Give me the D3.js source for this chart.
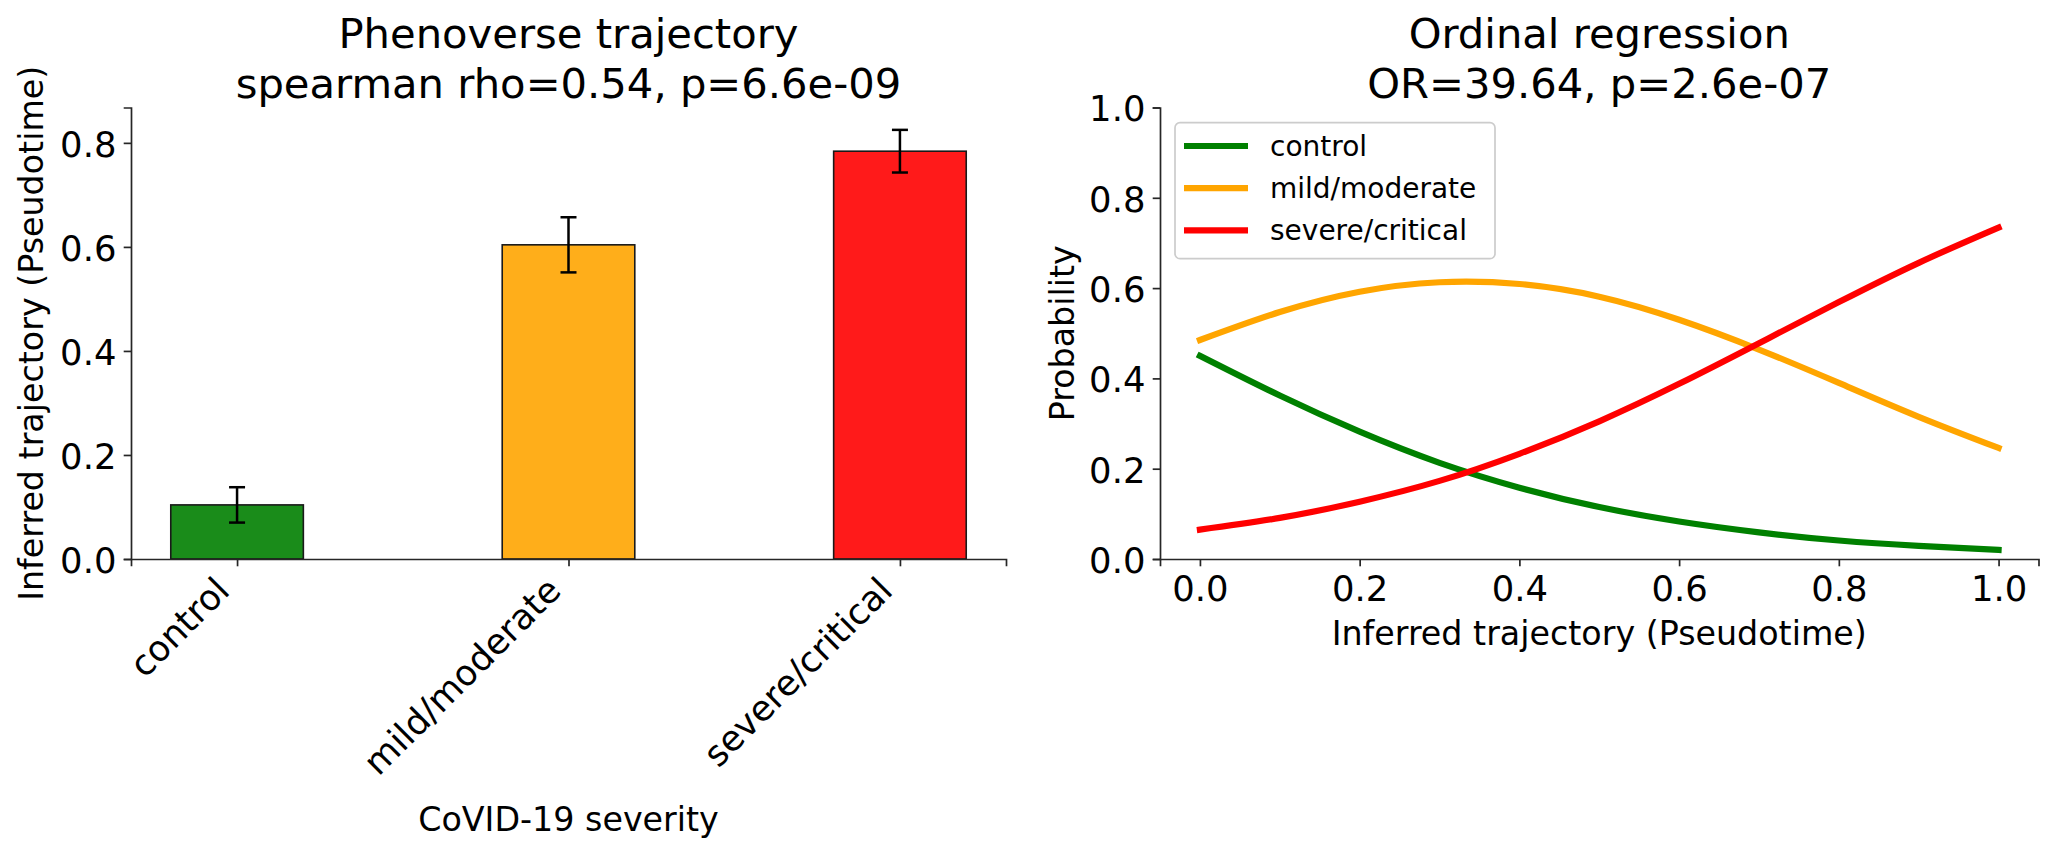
<!DOCTYPE html>
<html>
<head>
<meta charset="utf-8">
<script src="https://cdn.jsdelivr.net/npm/d3@7"></script>
<style>
  html, body { margin: 0; padding: 0; background: #fff; }
  svg { display: block; font-family: "DejaVu Sans", sans-serif; }
  .axis path, .axis line { stroke: #262626; stroke-width: 1.7; }
  .axis text { font-size: 35.4px; fill: #000; font-family: "DejaVu Sans", sans-serif; }
</style>
</head>
<body>
<svg width="2051" height="851"></svg>
<script>
// bar panel data
const groups = ["control", "mild/moderate", "severe/critical"];
const means = [0.104, 0.604, 0.784];
const errs = [0.034, 0.053, 0.041];
const barColors = ["#1a8c1a", "#ffae1a", "#ff1a1a"];

// ordinal regression curves, every 0.1
const pseudotime = [0, 0.1, 0.2, 0.3, 0.4, 0.5, 0.6, 0.7, 0.8, 0.9, 1.0];
const pControl = [0.450, 0.362, 0.282, 0.213, 0.158, 0.115, 0.083, 0.059, 0.041, 0.029, 0.020];
const pMild = [0.485, 0.547, 0.592, 0.613, 0.609, 0.581, 0.530, 0.464, 0.390, 0.315, 0.246];
const pSevere = [0.065, 0.091, 0.127, 0.173, 0.233, 0.305, 0.388, 0.478, 0.569, 0.656, 0.734];
const lineColors = ["#008000", "#ffa500", "#ff0000"];

const yTicksBar = [0, 0.2, 0.4, 0.6, 0.8];
const ticksProb = [0, 0.2, 0.4, 0.6, 0.8, 1.0];

const svg = d3.select("svg");
const fmt = d3.format(".1f");

// ---------- left panel ----------
const L = { left: 131, right: 1006, top: 107.5, bottom: 559 };

const xb = d3.scaleLinear().domain([-0.32, 2.32]).range([L.left, L.right]);
const yb = d3.scaleLinear().domain([0, 0.868]).range([L.bottom, L.top]);
const barW = xb(0.4) - xb(0);

const gl = svg.append("g");

gl.selectAll("rect.bar")
  .data(means)
  .join("rect")
  .attr("class", "bar")
  .attr("x", (d, i) => xb(i) - barW / 2)
  .attr("y", d => yb(d))
  .attr("width", barW)
  .attr("height", d => yb(0) - yb(d))
  .attr("fill", (d, i) => barColors[i])
  .attr("stroke", "#1a1a1a")
  .attr("stroke-width", 1.6);

// error bars
const eb = gl.append("g").attr("stroke", "#000").attr("stroke-width", 2.5);
means.forEach((m, i) => {
  const cx = xb(i);
  eb.append("line").attr("x1", cx).attr("x2", cx).attr("y1", yb(m - errs[i])).attr("y2", yb(m + errs[i]));
  eb.append("line").attr("x1", cx - 8).attr("x2", cx + 8).attr("y1", yb(m - errs[i])).attr("y2", yb(m - errs[i]));
  eb.append("line").attr("x1", cx - 8).attr("x2", cx + 8).attr("y1", yb(m + errs[i])).attr("y2", yb(m + errs[i]));
});

// axes
const yAxisL = gl.append("g")
  .attr("class", "axis")
  .attr("transform", `translate(${L.left},0)`)
  .call(d3.axisLeft(yb).tickValues(yTicksBar).tickFormat(fmt).tickSizeOuter(0).tickSize(7.3).tickPadding(7.3));
yAxisL.selectAll("text").attr("dy", "0.38em");

const xAxisL = gl.append("g")
  .attr("class", "axis")
  .attr("transform", `translate(0,${L.bottom})`)
  .call(d3.axisBottom(xb).tickValues([0, 1, 2]).tickFormat((d, i) => groups[i]).tickSizeOuter(0).tickSize(7.3));
xAxisL.selectAll("text")
  .attr("text-anchor", "end")
  .attr("y", 0).attr("x", 0).attr("dy", 0)
  .attr("transform", "translate(-6,33.6) rotate(-45)");

// titles & labels
gl.append("text").attr("x", (L.left + L.right) / 2).attr("y", 48)
  .attr("text-anchor", "middle").attr("font-size", "41.7px").text("Phenoverse trajectory");
gl.append("text").attr("x", (L.left + L.right) / 2).attr("y", 97.5)
  .attr("text-anchor", "middle").attr("font-size", "41.7px").text("spearman rho=0.54, p=6.6e-09");
gl.append("text").attr("transform", `translate(43,${(L.top + L.bottom) / 2}) rotate(-90)`)
  .attr("text-anchor", "middle").attr("font-size", "33.3px").text("Inferred trajectory (Pseudotime)");
gl.append("text").attr("x", (L.left + L.right) / 2).attr("y", 831)
  .attr("text-anchor", "middle").attr("font-size", "33.3px").text("CoVID-19 severity");

// ---------- right panel ----------
const R = { left: 1160, right: 2038.5, top: 107.5, bottom: 559 };

const xr = d3.scaleLinear().domain([-0.05, 1.05]).range([R.left, R.right]);
const yr = d3.scaleLinear().domain([0, 1]).range([R.bottom, R.top]);

const gr = svg.append("g");

const line = d3.line()
  .x((d, i) => xr(pseudotime[i]))
  .y(d => yr(d))
  .curve(d3.curveNatural);

[pControl, pMild, pSevere].forEach((s, k) => {
  gr.append("path")
    .datum(s)
    .attr("d", line)
    .attr("fill", "none")
    .attr("stroke", lineColors[k])
    .attr("stroke-width", 6.2)
    .attr("stroke-linecap", "square");
});

const yAxisR = gr.append("g")
  .attr("class", "axis")
  .attr("transform", `translate(${R.left},0)`)
  .call(d3.axisLeft(yr).tickValues(ticksProb).tickFormat(fmt).tickSizeOuter(0).tickSize(7.3).tickPadding(7.3));
yAxisR.selectAll("text").attr("dy", "0.38em");

const xAxisR = gr.append("g")
  .attr("class", "axis")
  .attr("transform", `translate(0,${R.bottom})`)
  .call(d3.axisBottom(xr).tickValues(ticksProb).tickFormat(fmt).tickSizeOuter(0).tickSize(7.3).tickPadding(7.3));
xAxisR.selectAll("text").attr("dy", "0.76em");

gr.append("text").attr("x", (R.left + R.right) / 2).attr("y", 48)
  .attr("text-anchor", "middle").attr("font-size", "41.7px").text("Ordinal regression");
gr.append("text").attr("x", (R.left + R.right) / 2).attr("y", 97.5)
  .attr("text-anchor", "middle").attr("font-size", "41.7px").text("OR=39.64, p=2.6e-07");
gr.append("text").attr("transform", `translate(1074,${(R.top + R.bottom) / 2}) rotate(-90)`)
  .attr("text-anchor", "middle").attr("font-size", "33.3px").text("Probability");
gr.append("text").attr("x", (R.left + R.right) / 2).attr("y", 645)
  .attr("text-anchor", "middle").attr("font-size", "33.3px").text("Inferred trajectory (Pseudotime)");

// legend
const leg = gr.append("g").attr("transform", "translate(1175,122.7)");
leg.append("rect")
  .attr("width", 320).attr("height", 136).attr("rx", 5)
  .attr("fill", "#fff").attr("fill-opacity", 0.8)
  .attr("stroke", "#cccccc").attr("stroke-width", 1.7);
groups.forEach((g, i) => {
  const yy = 23.3 + i * 42.2;
  leg.append("line").attr("x1", 9).attr("x2", 73).attr("y1", yy).attr("y2", yy)
    .attr("stroke", lineColors[i]).attr("stroke-width", 6.2);
  leg.append("text").attr("x", 95).attr("y", yy).attr("dy", "0.35em")
    .attr("font-size", "28px").text(g);
});
</script>
</body>
</html>
